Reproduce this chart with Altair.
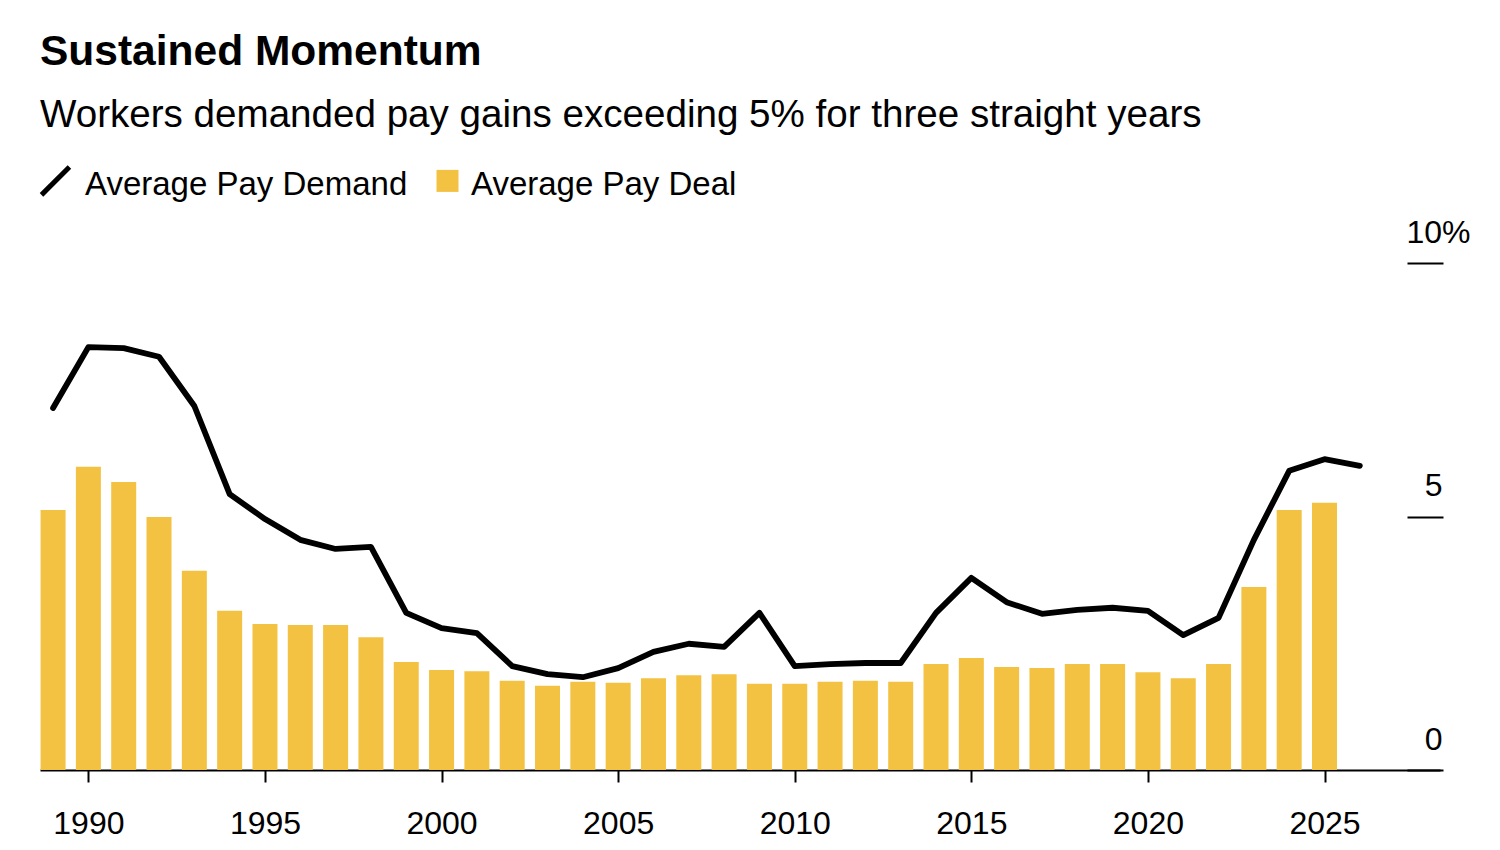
import altair as alt
import pandas as pd

# ---- data ----
years_deal = list(range(1989, 2026))
pay_deal = [5.13, 5.98, 5.68, 4.99, 3.93, 3.14, 2.88, 2.86, 2.86, 2.62,
            2.13, 1.97, 1.95, 1.76, 1.66, 1.74, 1.72, 1.81, 1.87, 1.89,
            1.70, 1.70, 1.74, 1.76, 1.74, 2.09, 2.21, 2.03, 2.01, 2.09,
            2.09, 1.93, 1.81, 2.09, 3.61, 5.13, 5.27]
years_demand = list(range(1989, 2027))
pay_demand = [7.14, 8.34, 8.32, 8.15, 7.18, 5.44, 4.95, 4.54, 4.36, 4.40,
              3.10, 2.80, 2.70, 2.05, 1.89, 1.83, 2.01, 2.33, 2.49, 2.43,
              3.10, 2.05, 2.09, 2.11, 2.11, 3.10, 3.79, 3.31, 3.08, 3.16,
              3.20, 3.14, 2.66, 3.00, 4.54, 5.90, 6.13, 6.00]
x_ticks = [1990, 1995, 2000, 2005, 2010, 2015, 2020, 2025]
y_ticks = [0, 5, 10]
series_names = ["Average Pay Demand", "Average Pay Deal"]

FONT = "Liberation Sans"
YELLOW = "#F4C242"
BLACK = "#000000"

deal_df = pd.DataFrame({"year": years_deal, "value": pay_deal})
demand_df = pd.DataFrame({"year": years_demand, "value": pay_demand})
legend_df = pd.DataFrame({"series": series_names})

x_scale = alt.Scale(domain=[1988.63, 2028.27], nice=False, zero=False, padding=0)
y_scale = alt.Scale(domain=[0, 10], nice=False)

x_axis = alt.Axis(values=x_ticks, format="d", title=None, grid=False,
                  domainColor=BLACK, domainWidth=2, tickColor=BLACK,
                  tickWidth=2, tickSize=12, labelFontSize=32,
                  labelFont=FONT, labelColor=BLACK, labelPadding=26)

y_axis = alt.Axis(values=y_ticks, orient="right", title=None, grid=False,
                  domain=False, offset=-33, tickSize=36, tickWidth=2,
                  tickColor=BLACK, labelFontSize=32, labelFont=FONT,
                  labelColor=BLACK, labelAlign="right",
                  labelBaseline="alphabetic", labelOffset=-21,
                  labelPadding={"condition": {"test": "datum.value == 10", "value": 27}, "value": -1},
                  labelExpr="datum.value == 10 ? '10%' : datum.label")

bars = alt.Chart(deal_df).mark_bar(color=YELLOW, size=25).encode(
    x=alt.X("year:Q", scale=x_scale, axis=x_axis),
    y=alt.Y("value:Q", scale=y_scale, axis=y_axis),
)

line = alt.Chart(demand_df).mark_line(color=BLACK, strokeWidth=5.8,
                                      strokeCap="round", strokeJoin="round").encode(
    x=alt.X("year:Q", scale=x_scale),
    y=alt.Y("value:Q", scale=y_scale),
)

# legend symbols: a short thick diagonal stroke and a square (nudged up)
diag = "M-1.98,0.76L0.56,-1.78L0.88,-1.46L-1.66,1.08Z"
square = "M-1,-1.35L1,-1.35L1,0.65L-1,0.65Z"
leg = alt.Legend(title=None, orient="none", legendX=5, legendY=-95,
                 direction="horizontal", labelFontSize=33, labelFont=FONT,
                 labelColor=BLACK, labelLimit=0, symbolSize=484, labelOffset=7,
                 columnPadding=23, symbolOpacity=1, symbolStrokeWidth=0)

legend_layer = alt.Chart(legend_df).mark_point(filled=True, opacity=0).encode(
    color=alt.Color("series:N", scale=alt.Scale(domain=series_names, range=[BLACK, YELLOW]),
                    legend=leg),
    shape=alt.Shape("series:N", scale=alt.Scale(domain=series_names, range=[diag, square]),
                    legend=leg),
)

chart = alt.layer(bars, line, legend_layer).properties(
    width=1400,
    height=507,
    background="white",
    autosize=alt.AutoSizeParams(type="none"),
    padding={"left": 32, "top": 255, "right": 52, "bottom": 80},
    title=alt.TitleParams(
        text="Sustained Momentum",
        subtitle="Workers demanded pay gains exceeding 5% for three straight years",
        anchor="start", frame="group", font=FONT, fontSize=42.5,
        fontWeight="bold", color=BLACK, subtitleFont=FONT,
        subtitleFontSize=38.6, subtitleColor=BLACK, subtitlePadding=24,
        offset=33,
    ),
).configure_view(stroke="transparent", strokeWidth=0)

chart.save("out.html", embed_options={"renderer": "svg", "actions": False})
